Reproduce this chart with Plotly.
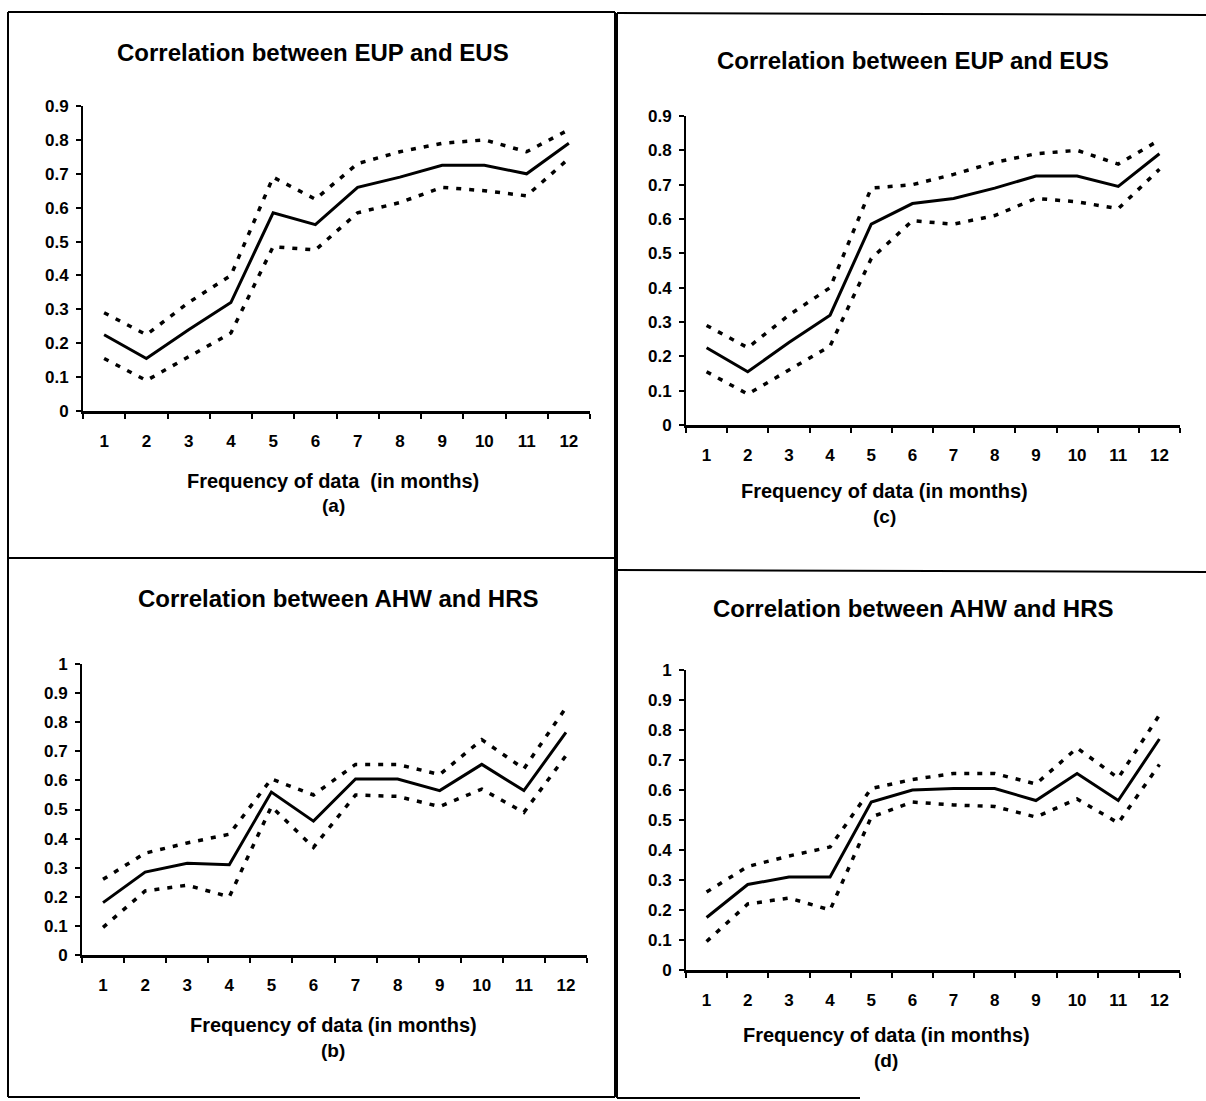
import plotly.graph_objects as go

W, H = 1206, 1101

months = list(range(1, 13))
month_labels = [str(m) for m in months]

# (a) EUP vs EUS
a_mid = [0.225, 0.155, 0.24, 0.32, 0.585, 0.55, 0.66, 0.69, 0.725, 0.725, 0.70, 0.79]
a_up = [0.29, 0.225, 0.32, 0.40, 0.69, 0.625, 0.73, 0.765, 0.79, 0.80, 0.765, 0.83]
a_lo = [0.155, 0.09, 0.16, 0.23, 0.485, 0.475, 0.585, 0.615, 0.66, 0.65, 0.635, 0.745]

# (c) EUP vs EUS
c_mid = [0.225, 0.155, 0.24, 0.32, 0.585, 0.645, 0.66, 0.69, 0.725, 0.725, 0.695, 0.79]
c_up = [0.29, 0.225, 0.32, 0.40, 0.69, 0.70, 0.73, 0.765, 0.79, 0.80, 0.76, 0.83]
c_lo = [0.155, 0.09, 0.16, 0.23, 0.485, 0.595, 0.585, 0.61, 0.66, 0.65, 0.63, 0.745]

# (b) AHW vs HRS
b_mid = [0.18, 0.285, 0.315, 0.31, 0.56, 0.46, 0.605, 0.605, 0.565, 0.655, 0.565, 0.765]
b_up = [0.26, 0.35, 0.385, 0.415, 0.605, 0.55, 0.655, 0.655, 0.62, 0.74, 0.64, 0.85]
b_lo = [0.095, 0.22, 0.24, 0.20, 0.51, 0.37, 0.55, 0.545, 0.51, 0.57, 0.49, 0.685]

# (d) AHW vs HRS
d_mid = [0.175, 0.285, 0.31, 0.31, 0.56, 0.60, 0.605, 0.605, 0.565, 0.655, 0.565, 0.77]
d_up = [0.26, 0.345, 0.38, 0.41, 0.605, 0.635, 0.655, 0.655, 0.62, 0.74, 0.64, 0.85]
d_lo = [0.095, 0.22, 0.24, 0.20, 0.51, 0.56, 0.55, 0.545, 0.51, 0.57, 0.49, 0.685]

titles = ["Correlation between EUP and EUS", "Correlation between EUP and EUS",
          "Correlation between AHW and HRS", "Correlation between AHW and HRS"]
xtitles = ["Frequency of data  (in months)", "Frequency of data (in months)",
           "Frequency of data (in months)", "Frequency of data (in months)"]
letters = ["(a)", "(c)", "(b)", "(d)"]
y_ticks_top = [0, 0.1, 0.2, 0.3, 0.4, 0.5, 0.6, 0.7, 0.8, 0.9]
y_ticks_bot = [0, 0.1, 0.2, 0.3, 0.4, 0.5, 0.6, 0.7, 0.8, 0.9, 1]
y_labels_top = ["0", "0.1", "0.2", "0.3", "0.4", "0.5", "0.6", "0.7", "0.8", "0.9"]
y_labels_bot = ["0", "0.1", "0.2", "0.3", "0.4", "0.5", "0.6", "0.7", "0.8", "0.9", "1"]

def px(x):
    return x / W

def py(y):
    return 1 - y / H

FONT = "Liberation Sans, Arial, sans-serif"

panels = [
    dict(data=(a_mid, a_up, a_lo), plot=(83, 590, 106, 411), ymax=0.9,
         title=(313, 52), xt=(333, 481), let=(333, 505)),
    dict(data=(c_mid, c_up, c_lo), plot=(686, 1180, 116, 425), ymax=0.9,
         title=(913, 60), xt=(884, 491), let=(884, 516)),
    dict(data=(b_mid, b_up, b_lo), plot=(82, 587, 664, 955), ymax=1.0,
         title=(338, 598), xt=(333, 1025), let=(333, 1050)),
    dict(data=(d_mid, d_up, d_lo), plot=(686, 1180, 670, 970), ymax=1.0,
         title=(913, 608), xt=(886, 1035), let=(886, 1060)),
]

fig = go.Figure()
annotations = []
layout_axes = {}

for i, p in enumerate(panels):
    k = "" if i == 0 else str(i + 1)
    xa, ya = "x" + k, "y" + k
    mid, up, lo = p["data"]
    for vals, dash, w in ((up, "5px,8px", 3.5), (lo, "5px,8px", 3.5), (mid, "solid", 3)):
        fig.add_trace(go.Scatter(x=months, y=vals, mode="lines", xaxis=xa, yaxis=ya,
                                 line=dict(color="black", width=w, dash=dash),
                                 showlegend=False, hoverinfo="skip"))
    x0, x1, yt, yb = p["plot"]
    top = p["ymax"] == 0.9
    layout_axes["xaxis" + k] = dict(
        domain=[px(x0), px(x1)], anchor=ya, range=[0.5, 12.5], automargin=False,
        tickmode="array", tickvals=months, ticktext=month_labels, ticks="",
        minor=dict(ticks="outside", tick0=0.5, dtick=1, ticklen=5, tickwidth=1.5, tickcolor="black"),
        showline=True, linecolor="black", linewidth=2.5, showgrid=False, zeroline=False,
        tickfont=dict(family=FONT, size=17, color="black", weight="bold"),
        ticklabelstandoff=13,
    )
    layout_axes["yaxis" + k] = dict(
        domain=[py(yb), py(yt)], anchor=xa, range=[0, p["ymax"]], automargin=False,
        tickmode="array", tickvals=y_ticks_top if top else y_ticks_bot,
        ticktext=y_labels_top if top else y_labels_bot,
        ticks="outside", ticklen=5, tickwidth=1.5, tickcolor="black",
        showline=True, linecolor="black", linewidth=2, showgrid=False, zeroline=False,
        tickfont=dict(family=FONT, size=17, color="black", weight="bold"),
        ticklabelstandoff=4,
    )
    annotations.append(dict(text=titles[i], x=px(p["title"][0]), y=py(p["title"][1]),
                            xref="paper", yref="paper", showarrow=False,
                            xanchor="center", yanchor="middle",
                            font=dict(family=FONT, size=24, color="black", weight="bold")))
    annotations.append(dict(text=xtitles[i], x=px(p["xt"][0]), y=py(p["xt"][1]),
                            xref="paper", yref="paper", showarrow=False,
                            xanchor="center", yanchor="middle",
                            font=dict(family=FONT, size=20, color="black", weight="bold")))
    annotations.append(dict(text=letters[i], x=px(p["let"][0]), y=py(p["let"][1]),
                            xref="paper", yref="paper", showarrow=False,
                            xanchor="center", yanchor="middle",
                            font=dict(family=FONT, size=19, color="black", weight="bold")))

def line(x0, y0, x1, y1, w=2):
    return dict(type="line", xref="paper", yref="paper",
                x0=px(x0), y0=py(y0), x1=px(x1), y1=py(y1),
                line=dict(color="black", width=w))

shapes = [
    line(8, 12, 615, 12), line(8, 12, 8, 1097), line(615, 12, 615, 1097),
    line(8, 558, 615, 558), line(8, 1097, 615, 1097),
    line(617, 13, 1206, 15), line(617, 13, 617, 1098),
    line(617, 570, 1206, 572), line(617, 1098, 860, 1098),
]

fig.update_layout(
    width=W, height=H, margin=dict(l=0, r=0, t=0, b=0, pad=0, autoexpand=False),
    paper_bgcolor="white", plot_bgcolor="white",
    showlegend=False, annotations=annotations, shapes=shapes,
    **layout_axes,
)

post = (
    "document.documentElement.style.margin='0';"
    "document.documentElement.style.overflow='hidden';"
    "document.body.style.margin='0';"
    "document.body.style.overflow='hidden';"
    "var d=document.querySelector('.plotly-graph-div');"
    "d.style.position='fixed';d.style.top='0px';d.style.left='0px';"
)

fig.write_html("out.html", config={"displayModeBar": False}, post_script=post)
